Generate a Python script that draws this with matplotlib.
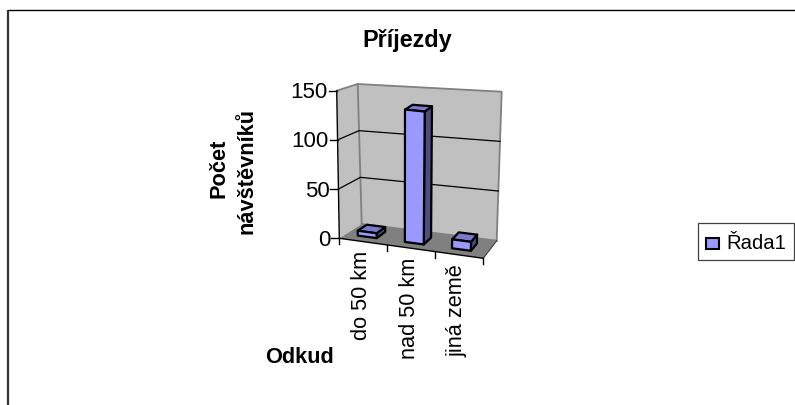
import matplotlib
matplotlib.use('Agg')
import matplotlib.pyplot as plt
from matplotlib.patches import Polygon

plt.rcParams['font.family'] = ['Liberation Sans', 'DejaVu Sans']

# --- Data ---
categories = ['do 50 km', 'nad 50 km', 'jiná země']
values = [5, 135, 9]
y_ticks = [0, 50, 100, 150]
series_name = 'Řada1'

# --- 3D box corners in pixels (front/back, left/right, bottom/top) ---
FLB = (339.3, 238.3)
FRB = (483.3, 258.3)
BLB = (361.7, 224.0)
BRB = (496.7, 240.7)
FLT = (336.7, 90.7)
FRT = (487.5, 108.5)
BLT = (357.7, 84.0)
BRT = (501.7, 91.7)

Y_MAX = 150
BAR_X0, BAR_X1 = 0.25, 0.65
BAR_Z0, BAR_Z1 = 0.3, 0.72

FACE = '#9999FF'
SIDE = '#4D4D80'
TOP = '#7A7ACC'
WALL = '#C0C0C0'
FLOOR = '#808080'


def lerp(a, b, t):
    return (a[0] + (b[0] - a[0]) * t, a[1] + (b[1] - a[1]) * t)


def proj(x, y, z):
    """category position x (0-3), value y, depth z (0 front, 1 back) -> pixels"""
    u, v = x / len(categories), y / Y_MAX
    bottom = lerp(lerp(FLB, FRB, u), lerp(BLB, BRB, u), z)
    top = lerp(lerp(FLT, FRT, u), lerp(BLT, BRT, u), z)
    return lerp(bottom, top, v)


fig = plt.figure(figsize=(7.95, 4.05), dpi=100)
ax = fig.add_axes([0, 0, 1, 1])
ax.set_xlim(0, 795)
ax.set_ylim(405, 0)
ax.axis('off')

# chart border, only top and left show up in the crop
ax.plot([8, 795], [10, 10], color='black', lw=1.0, solid_capstyle='butt')
ax.plot([8, 8], [10, 405], color='#333333', lw=1.6, solid_capstyle='butt')

n = len(categories)
# walls and floor
ax.add_patch(Polygon([FLB, BLB, BLT, FLT], fc=WALL, ec='none', zorder=1))
ax.add_patch(Polygon([BLB, BRB, BRT, BLT], fc=WALL, ec='none', zorder=1))
ax.add_patch(Polygon([FLB, FRB, BRB, BLB], fc=FLOOR, ec='none', zorder=1))
for pts in ([BLB, BLT], [FLT, BLT, BRT, BRB], [BLB, BRB]):
    ax.plot(*zip(*pts), color='#808080', lw=1.3, zorder=2)

# gridlines
for t in y_ticks[1:-1]:
    pts = [proj(0, t, 0), proj(0, t, 1), proj(n, t, 1)]
    ax.plot(*zip(*pts), color='black', lw=0.9, zorder=2)

# axes lines and ticks
ax.plot(*zip(FLT, FLB, FRB), color='black', lw=1.0, zorder=3)
ax.plot(*zip(FRB, BRB), color='#404040', lw=0.8, zorder=2)
for t in y_ticks:
    px, py = proj(0, t, 0)
    ax.plot([px - 8, px], [py, py], color='black', lw=1.0, zorder=3)
    ax.text(px - 9, py + 7.5, str(t), ha='right', va='baseline', fontsize=16)

for i in range(n + 1):
    px, py = proj(i, 0, 0)
    ax.plot([px, px], [py, py + 6], color='black', lw=1.0, zorder=3)

for i, name in enumerate(categories):
    px, py = proj(i + 0.5, 0, 0)
    ax.text(px - 2, py + 9, name, rotation=90, ha='center', va='top', fontsize=15.7)

# bars
for i, val in enumerate(values):
    x0, x1 = i + BAR_X0, i + BAR_X1
    front = [proj(x0, 0, BAR_Z0), proj(x1, 0, BAR_Z0), proj(x1, val, BAR_Z0), proj(x0, val, BAR_Z0)]
    side = [proj(x1, 0, BAR_Z0), proj(x1, 0, BAR_Z1), proj(x1, val, BAR_Z1), proj(x1, val, BAR_Z0)]
    top = [proj(x0, val, BAR_Z0), proj(x1, val, BAR_Z0), proj(x1, val, BAR_Z1), proj(x0, val, BAR_Z1)]
    for poly, col in ((side, SIDE), (top, TOP), (front, FACE)):
        ax.add_patch(Polygon(poly, fc=col, ec='black', lw=1.6, joinstyle='round', zorder=4))

# titles
ax.text(407.5, 47, 'Příjezdy', ha='center', va='baseline', fontsize=16.8, fontweight='bold')
ax.text(219, 168.5, 'Počet', rotation=90, ha='center', va='center', fontsize=15.7, fontweight='bold')
ax.text(247, 171, 'návštěvníků', rotation=90, ha='center', va='center', fontsize=15.7, fontweight='bold')
ax.text(299, 363, 'Odkud', ha='center', va='baseline', fontsize=15.7, fontweight='bold')

# legend
ax.add_patch(Polygon([(698, 223), (794, 223), (794, 260), (698, 260)], fc='white', ec='#404040', lw=0.9))
ax.add_patch(Polygon([(705.5, 237.5), (718.5, 237.5), (718.5, 249), (705.5, 249)], fc=FACE, ec='black', lw=1.5))
ax.text(726.5, 249, series_name, ha='left', va='baseline', fontsize=14.6)

fig.savefig('out.png', dpi=100)
